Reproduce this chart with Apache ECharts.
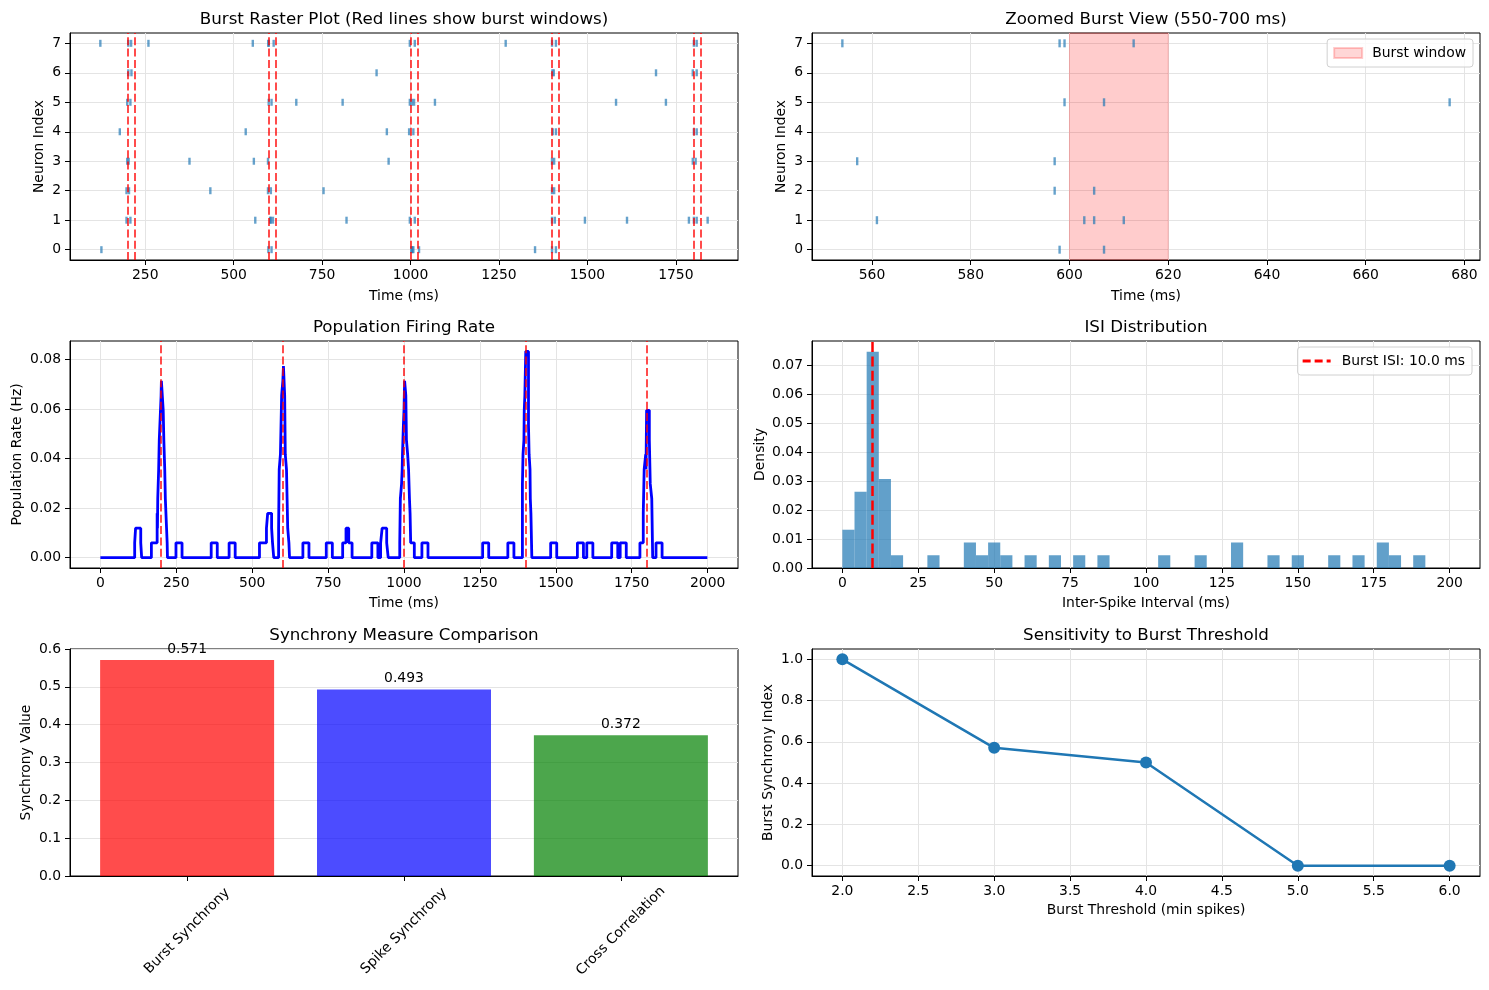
<!DOCTYPE html>
<html>
<head>
<meta charset="utf-8">
<title>Burst synchrony analysis</title>
<script src="https://cdn.jsdelivr.net/npm/echarts@6/dist/echarts.min.js"></script>
<style>
html, body { margin: 0; padding: 0; background: #fff; }
#main { width: 1489px; height: 990px; }
</style>
</head>
<body>
<div id="main"></div>
<script>
var spikesN0 = [126, 598, 607, 1002, 1005, 1008, 1024, 1352, 1400, 1411];
var spikesN1 = [197, 208, 561, 603, 605, 611, 819, 998, 1012, 1400, 1408, 1493, 1612, 1787, 1801, 1809, 1840];
var spikesN2 = [197, 204, 434, 597, 605, 754, 1400, 1406];
var spikesN3 = [199, 203, 375, 557, 597, 938, 1400, 1406, 1798, 1806];
var spikesN4 = [178, 534, 933, 996, 1008, 1402, 1411, 1801, 1809];
var spikesN5 = [199, 208, 599, 607, 677, 808, 998, 1004, 1010, 1069, 1581, 1722];
var spikesN6 = [202, 211, 904, 1401, 1405, 1694, 1798, 1809];
var spikesN7 = [123, 202, 210, 259, 554, 598, 599, 613, 998, 1012, 1269, 1400, 1411, 1801, 1809];
var spikeTrains = [spikesN0, spikesN1, spikesN2, spikesN3, spikesN4, spikesN5, spikesN6, spikesN7];

// burst windows
var burstStarts = [200, 600, 1000, 1400, 1800];
var burstEnds = [220, 620, 1020, 1420, 1820];
var zoomWindow = [600, 620];

// population rate (Hz), [time ms, rate] at each step change
var popRate = [
  [0, 0], [113, 0.0060], [116, 0.0119], [133, 0.0060], [136, 0], [168, 0.0060],
  [187, 0.0179], [188, 0.0119], [189, 0.0238], [192, 0.0357], [193, 0.0417], [194, 0.0476],
  [198, 0.0595], [200, 0.0655], [201, 0.0714], [207, 0.0595], [209, 0.0476], [212, 0.0357],
  [213, 0.0298], [214, 0.0238], [218, 0.0119], [220, 0.0060], [221, 0],
  [249, 0.0060], [269, 0], [365, 0.0060], [385, 0], [424, 0.0060], [444, 0],
  [524, 0.0060], [547, 0.0119], [551, 0.0179], [564, 0.0119], [567, 0.0060], [571, 0],
  [587, 0.0119], [588, 0.0238], [589, 0.0357], [593, 0.0417], [595, 0.0536], [597, 0.0655],
  [601, 0.0714], [603, 0.0774], [607, 0.0655], [608, 0.0536], [609, 0.0417], [613, 0.0357],
  [615, 0.0238], [617, 0.0119], [621, 0.0060], [623, 0],
  [667, 0.0060], [687, 0], [744, 0.0060], [764, 0], [798, 0.0060], [809, 0.0119], [818, 0.0060], [829, 0],
  [894, 0.0060], [914, 0], [923, 0.0060], [928, 0.0119], [943, 0.0060], [948, 0],
  [986, 0.0060], [988, 0.0238], [992, 0.0298], [994, 0.0357], [995, 0.0417], [998, 0.0536],
  [1000, 0.0595], [1002, 0.0714], [1006, 0.0655], [1008, 0.0476], [1012, 0.0417], [1015, 0.0357],
  [1018, 0.0238], [1020, 0.0179], [1022, 0.0060], [1034, 0],
  [1059, 0.0060], [1079, 0], [1259, 0.0060], [1279, 0], [1342, 0.0060], [1362, 0],
  [1390, 0.0298], [1391, 0.0357], [1392, 0.0417], [1395, 0.0476], [1396, 0.0595], [1398, 0.0655],
  [1401, 0.0833], [1410, 0.0536], [1411, 0.0476], [1412, 0.0417], [1415, 0.0357], [1416, 0.0238],
  [1418, 0.0179], [1421, 0],
  [1483, 0.0060], [1503, 0], [1571, 0.0060], [1591, 0], [1602, 0.0060], [1622, 0],
  [1684, 0.0060], [1704, 0], [1712, 0.0060], [1732, 0],
  [1777, 0.0060], [1788, 0.0179], [1791, 0.0357], [1796, 0.0417], [1797, 0.0357], [1799, 0.0595],
  [1808, 0.0476], [1811, 0.0298], [1816, 0.0238], [1819, 0], [1830, 0.0060], [1850, 0], [1999, 0]
];

// ISI histogram (non-empty bins only), bin width 4 ms
var isiBinStart = [0, 4, 8, 12, 16, 28, 40, 44, 48, 52, 60, 68, 76, 84, 104, 116, 128, 140, 148, 160, 168, 176, 180, 188];
var isiDensity = [0.0132, 0.0263, 0.0746, 0.0307, 0.0044, 0.0044, 0.0088, 0.0044, 0.0088, 0.0044, 0.0044, 0.0044,
                  0.0044, 0.0044, 0.0044, 0.0044, 0.0088, 0.0044, 0.0044, 0.0044, 0.0044, 0.0088, 0.0044, 0.0044];
var isiBinWidth = 4;
var burstIsi = 10.0;

// synchrony measures
var measureNames = ['Burst Synchrony', 'Spike Synchrony', 'Cross Correlation'];
var measureValues = [0.571, 0.493, 0.372];
var measureColors = ['rgba(255,0,0,0.7)', 'rgba(0,0,255,0.7)', 'rgba(0,128,0,0.7)'];

// threshold sensitivity
var thresholds = [2, 3, 4, 5, 6];
var thresholdIndex = [1.0, 0.571, 0.5, 0.0, 0.0];

// tick values
var rasterTicks = [250, 500, 750, 1000, 1250, 1500, 1750];
var neuronTicks = [0, 1, 2, 3, 4, 5, 6, 7];
var zoomTicks = [560, 580, 600, 620, 640, 660, 680];
var rateTimeTicks = [0, 250, 500, 750, 1000, 1250, 1500, 1750, 2000];
var rateTicks = [0, 0.02, 0.04, 0.06, 0.08];
var isiTicks = [0, 25, 50, 75, 100, 125, 150, 175, 200];
var densityTicks = [0, 0.01, 0.02, 0.03, 0.04, 0.05, 0.06, 0.07];
var measureTicks = [0, 1, 2];
var syncTicks = [0, 0.1, 0.2, 0.3, 0.4, 0.5, 0.6];
var thresholdTicks = [2, 2.5, 3, 3.5, 4, 4.5, 5, 5.5, 6];
var indexTicks = [0, 0.2, 0.4, 0.6, 0.8, 1.0];

var FONT = 'DejaVu Sans';
var myChart = echarts.init(document.getElementById('main'));

function valueAxis(dim, grid, min, max, ticks, digits, name, gap, split) {
  return {
    type: 'value',
    gridIndex: grid,
    min: min,
    max: max,
    name: name,
    nameLocation: 'middle',
    nameGap: gap,
    nameTextStyle: { fontFamily: FONT, fontSize: 13.9, color: '#000' },
    axisLine: { show: true, onZero: false, lineStyle: { color: '#000', width: 1 } },
    axisTick: { show: true, inside: false, length: 5, customValues: ticks, lineStyle: { color: '#000', width: 1 } },
    axisLabel: {
      customValues: ticks,
      margin: dim === 'x' ? 8 : 9,
      fontFamily: FONT, fontSize: 13.9, color: '#000',
      formatter: function (v) { return v.toFixed(digits); }
    },
    splitLine: { show: split, lineStyle: { color: '#e4e4e4', width: 1 } }
  };
}

function plotTitle(text, cx, top) {
  return {
    text: text, left: cx, top: top, textAlign: 'center', padding: 0,
    textStyle: { fontFamily: FONT, fontSize: 16.7, fontWeight: 'normal', color: '#000' }
  };
}

var rasterPoints = [];
spikeTrains.forEach(function (train, n) {
  train.forEach(function (t) { rasterPoints.push([t, n]); });
});

var burstLines = burstStarts.concat(burstEnds).map(function (t) { return { xAxis: t }; });
var burstCentres = burstStarts.map(function (t) { return { xAxis: t }; });

var gridBox = { show: true, borderColor: '#000', borderWidth: 1, outerBoundsMode: 'none', containLabel: false };

option = {
  animation: false,
  backgroundColor: '#fff',
  title: [
    plotTitle('Burst Raster Plot (Red lines show burst windows)', 404, 11),
    plotTitle('Zoomed Burst View (550-700 ms)', 1146, 11),
    plotTitle('Population Firing Rate', 404, 319),
    plotTitle('ISI Distribution', 1146, 319),
    plotTitle('Synchrony Measure Comparison', 404, 627),
    plotTitle('Sensitivity to Burst Threshold', 1146, 627)
  ],
  legend: [{
    data: [{ name: 'Burst window', icon: 'rect' }],
    right: 16, top: 39, orient: 'vertical',
    itemWidth: 28, itemHeight: 10,
    selectedMode: false,
    padding: [7, 7, 7, 6],
    borderColor: '#d0d0d0', borderWidth: 1, borderRadius: 3,
    backgroundColor: 'rgba(255,255,255,0.8)',
    textStyle: { fontFamily: FONT, fontSize: 13.9, color: '#000', padding: [0, 0, 0, 5] }
  }, {
    data: [{ name: 'Burst ISI: 10.0 ms', icon: 'path://M0,0h8v3h-8zM12,0h8v3h-8zM24,0h4v3h-4z' }],
    right: 17, top: 347, orient: 'vertical',
    itemWidth: 28, itemHeight: 3,
    selectedMode: false,
    padding: [7, 7, 7, 5],
    borderColor: '#d0d0d0', borderWidth: 1, borderRadius: 3,
    backgroundColor: 'rgba(255,255,255,0.8)',
    textStyle: { fontFamily: FONT, fontSize: 13.9, color: '#000', padding: [0, 0, 0, 6] }
  }],
  grid: [
    Object.assign({ left: 70, top: 33, width: 668, height: 227 }, gridBox),
    Object.assign({ left: 812, top: 33, width: 668, height: 227 }, gridBox),
    Object.assign({ left: 70, top: 341, width: 668, height: 227 }, gridBox),
    Object.assign({ left: 812, top: 341, width: 668, height: 227 }, gridBox),
    Object.assign({ left: 70, top: 649, width: 668, height: 227 }, gridBox),
    Object.assign({ left: 812, top: 649, width: 668, height: 227 }, gridBox)
  ],
  xAxis: [
    valueAxis('x', 0, 37.2, 1925.8, rasterTicks, 0, 'Time (ms)', 29, true),
    valueAxis('x', 1, 547.85, 683.15, zoomTicks, 0, 'Time (ms)', 29, true),
    valueAxis('x', 2, -100, 2100, rateTimeTicks, 0, 'Time (ms)', 28, true),
    valueAxis('x', 3, -10, 210, isiTicks, 0, 'Inter-Spike Interval (ms)', 28, true),
    (function () {
      var a = valueAxis('x', 4, -0.54, 2.54, measureTicks, 0, '', 0, false);
      a.axisLabel.formatter = function (v) { return measureNames[v]; };
      a.axisLabel.rotate = 45;
      a.axisLabel.align = 'center';
      a.axisLabel.verticalAlign = 'middle';
      a.axisLabel.margin = 55;
      return a;
    })(),
    valueAxis('x', 5, 1.8, 6.2, thresholdTicks, 1, 'Burst Threshold (min spikes)', 27, true)
  ],
  yAxis: [
    valueAxis('y', 0, -0.35, 7.35, neuronTicks, 0, 'Neuron Index', 24, true),
    valueAxis('y', 1, -0.35, 7.35, neuronTicks, 0, 'Neuron Index', 24, true),
    valueAxis('y', 2, -0.00417, 0.0875, rateTicks, 2, 'Population Rate (Hz)', 46, true),
    valueAxis('y', 3, 0, 0.0783, densityTicks, 2, 'Density', 45, true),
    valueAxis('y', 4, 0, 0.6, syncTicks, 1, 'Synchrony Value', 37, true),
    valueAxis('y', 5, -0.05, 1.05, indexTicks, 1, 'Burst Synchrony Index', 37, true)
  ],
  series: [
    {
      type: 'scatter', xAxisIndex: 0, yAxisIndex: 0,
      symbol: 'rect', symbolSize: [2.4, 7],
      itemStyle: { color: 'rgba(31,119,180,0.85)' },
      data: rasterPoints,
      silent: true,
      markLine: {
        silent: true, symbol: ['none', 'none'], label: { show: false },
        lineStyle: { color: 'rgba(255,0,0,0.7)', type: [8, 3.3], width: 2 },
        data: burstLines
      }
    },
    {
      type: 'scatter', xAxisIndex: 1, yAxisIndex: 1,
      symbol: 'rect', symbolSize: [2.4, 8],
      itemStyle: { color: 'rgba(31,119,180,0.85)' },
      data: rasterPoints,
      clip: true,
      silent: true
    },
    {
      name: 'Burst window',
      type: 'scatter', xAxisIndex: 1, yAxisIndex: 1, z: 5,
      data: [],
      itemStyle: { color: 'rgba(255,0,0,0.2)', borderColor: 'rgba(255,0,0,0.25)', borderWidth: 1 },
      markArea: {
        silent: true,
        itemStyle: { color: 'rgba(255,0,0,0.2)', borderColor: 'rgba(255,0,0,0.2)', borderWidth: 1 },
        data: [[{ xAxis: zoomWindow[0] }, { xAxis: zoomWindow[1] }]]
      }
    },
    {
      type: 'line', xAxisIndex: 2, yAxisIndex: 2,
      step: 'end', showSymbol: false, symbol: 'none',
      lineStyle: { color: '#0000ff', width: 2.8 },
      data: popRate,
      silent: true,
      markLine: {
        silent: true, symbol: ['none', 'none'], label: { show: false },
        lineStyle: { color: 'rgba(255,0,0,0.7)', type: [8, 3.3], width: 2 },
        data: burstCentres
      }
    },
    {
      type: 'custom', xAxisIndex: 3, yAxisIndex: 3,
      data: isiBinStart.map(function (b, i) { return [b, isiDensity[i]]; }),
      encode: { x: 0, y: 1 },
      silent: true,
      renderItem: function (params, api) {
        var x0 = api.value(0);
        var top = api.coord([x0, api.value(1)]);
        var base = api.coord([x0 + isiBinWidth, 0]);
        return {
          type: 'rect',
          shape: { x: top[0], y: top[1], width: base[0] - top[0], height: base[1] - top[1] },
          style: { fill: 'rgba(31,119,180,0.7)' }
        };
      }
    },
    {
      name: 'Burst ISI: 10.0 ms',
      type: 'line', xAxisIndex: 3, yAxisIndex: 3, z: 5,
      data: [], symbol: 'none',
      itemStyle: { color: '#ff0000' },
      lineStyle: { color: '#ff0000', type: [10, 4.4], width: 2.5 },
      markLine: {
        silent: true, symbol: ['none', 'none'], label: { show: false },
        lineStyle: { color: '#ff0000', type: [10, 4.4], width: 2.5 },
        data: [{ xAxis: burstIsi }]
      }
    },
    {
      type: 'bar', xAxisIndex: 4, yAxisIndex: 4,
      barWidth: 174,
      silent: true,
      data: measureValues.map(function (v, i) {
        return { value: [i, v], itemStyle: { color: measureColors[i] } };
      }),
      label: {
        show: true, position: 'top', distance: 4,
        fontFamily: FONT, fontSize: 13.9, color: '#000',
        formatter: function (p) { return p.value[1].toFixed(3); }
      }
    },
    {
      type: 'line', xAxisIndex: 5, yAxisIndex: 5,
      symbol: 'circle', symbolSize: 12,
      itemStyle: { color: '#1f77b4' },
      lineStyle: { color: '#1f77b4', width: 2.5 },
      silent: true,
      data: thresholds.map(function (t, i) { return [t, thresholdIndex[i]]; })
    }
  ]
};

myChart.setOption(option);
window.onresize = myChart.resize;
</script>
</body>
</html>
